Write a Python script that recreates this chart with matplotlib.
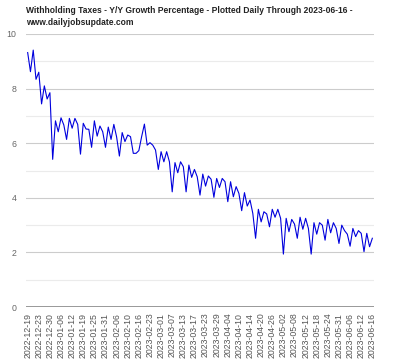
import matplotlib
matplotlib.use("Agg")
import matplotlib.pyplot as plt
from matplotlib.ticker import MultipleLocator

plt.rcParams['font.family'] = ['Liberation Sans', 'DejaVu Sans']

title = ("Withholding Taxes - Y/Y Growth Percentage - Plotted Daily Through 2023-06-16 -\n"
         "www.dailyjobsupdate.com")

# Y/Y growth %, one value per posting day (2022-12-19 .. 2023-06-16)
growth = [
    9.32, 8.62, 9.41, 8.34, 8.60, 7.44, 8.10, 7.62, 7.85, 5.41,
    6.82, 6.42, 6.93, 6.67, 6.14, 6.91, 6.55, 6.91, 6.69, 5.60,
    6.73, 6.52, 6.51, 5.85, 6.82, 6.26, 6.63, 6.42, 5.85, 6.59,
    6.14, 6.69, 6.23, 5.53, 6.39, 6.06, 6.30, 6.24, 5.63, 5.63,
    5.73, 6.24, 6.70, 5.93, 6.02, 5.93, 5.75, 5.04, 5.69, 5.32,
    5.69, 5.32, 4.22, 5.29, 4.92, 5.32, 5.14, 4.22, 5.20, 4.75,
    5.04, 4.77, 4.10, 4.87, 4.43, 4.80, 4.68, 4.02, 4.71, 4.38,
    4.71, 4.59, 3.86, 4.59, 4.04, 4.41, 4.16, 3.53, 4.19, 3.70,
    3.92, 3.43, 2.52, 3.58, 3.12, 3.49, 3.41, 2.94, 3.58, 3.29,
    3.58, 3.25, 1.94, 3.25, 2.76, 3.21, 3.04, 2.52, 3.29, 2.85,
    3.25, 2.88, 1.94, 3.09, 2.67, 3.09, 3.00, 2.45, 3.21, 2.72,
    3.09, 2.88, 2.33, 3.00, 2.80, 2.67, 2.23, 2.88, 2.58, 2.80,
    2.70, 2.03, 2.70, 2.21, 2.52,
]

# every 4th posting day is labelled
date_labels = [
    "2022-12-19", "2022-12-23", "2022-12-30", "2023-01-06", "2023-01-12",
    "2023-01-19", "2023-01-25", "2023-01-31", "2023-02-06", "2023-02-10",
    "2023-02-16", "2023-02-23", "2023-03-01", "2023-03-07", "2023-03-13",
    "2023-03-17", "2023-03-23", "2023-03-29", "2023-04-04", "2023-04-10",
    "2023-04-14", "2023-04-20", "2023-04-26", "2023-05-02", "2023-05-08",
    "2023-05-12", "2023-05-18", "2023-05-24", "2023-05-31", "2023-06-06",
    "2023-06-12", "2023-06-16",
]

x = list(range(len(growth)))

fig = plt.figure(figsize=(4, 3.6), dpi=100)
ax = fig.add_axes([0.065, 0.147, 0.87, 0.7586])

ax.plot(x, growth, color="#0000dd", linewidth=0.8)

ax.set_xlim(-0.6, len(growth) - 0.4)
ax.set_ylim(0, 10)
ax.yaxis.set_major_locator(MultipleLocator(2))
ax.yaxis.set_minor_locator(MultipleLocator(1))
ax.grid(which="major", axis="y", color="#cccccc", linewidth=0.8)
ax.grid(which="minor", axis="y", color="#ebebeb", linewidth=0.8)
ax.axhline(0, color="#999999", linewidth=1.4, zorder=3)
ax.set_axisbelow(True)

for s in ax.spines.values():
    s.set_visible(False)

ax.set_xticks(x[::4])
ax.set_xticklabels(date_labels, rotation=90, va="top", ha="center")
ax.tick_params(axis="x", length=0, pad=4, labelsize=6.3, labelcolor="#555555")
ax.tick_params(axis="y", which="both", length=0, pad=7, labelsize=6.3, labelcolor="#666666")

fig.text(0.065, 0.982, title, ha="left", va="top", fontsize=6.15,
         fontweight="bold", color="#222222", linespacing=1.35)

fig.savefig("out.png", dpi=100)
